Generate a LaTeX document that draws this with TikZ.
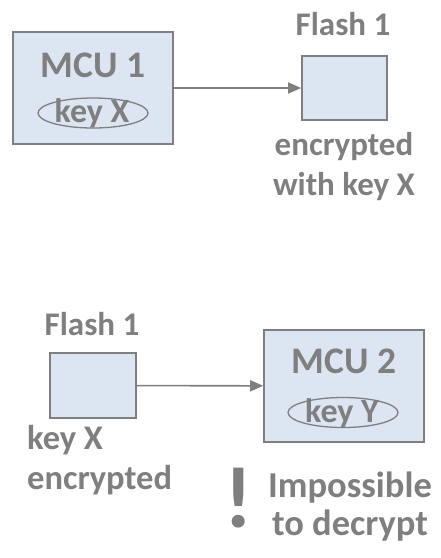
\documentclass[tikz,border=0pt]{standalone}
\usepackage{fontspec}
\setmainfont{Carlito}
\usetikzlibrary{shapes.geometric,arrows.meta}
\definecolor{txtgray}{RGB}{127,127,127}
\definecolor{boxblue}{RGB}{220,230,242}

\begin{document}
\begin{tikzpicture}[x=1pt,y=-1pt,
    box/.style={draw=txtgray, fill=boxblue, line width=1.6pt, inner sep=0pt},
    keyoval/.style={ellipse, draw=txtgray, line width=1.3pt, inner sep=0pt, minimum width=110pt, minimum height=30pt},
    lbl/.style={text=txtgray, font=\bfseries\fontsize{33}{40}\selectfont, inner sep=0pt},
    link/.style={draw=txtgray, line width=1.6pt, -{Triangle[length=13pt,width=11pt]}}]
    \useasboundingbox (0,0) rectangle (440,558);
    % MCU 1 writes to the flash
    \node[box, minimum width=160pt, minimum height=112pt] (mcuA) at (93,88) {};
    \node[lbl, anchor=base, font=\bfseries\fontsize{37.5}{37.5}\selectfont] (mcuAname) at (93,77) {MCU 1};
    \node[keyoval] (keyA) at (93,113) {};
    \node[lbl, anchor=base, font=\bfseries\fontsize{34}{34}\selectfont] (keyAname) at (92,122) {key X};
    \node[box, minimum width=85pt, minimum height=64pt] (flashA) at (344.5,88) {};
    \node[lbl, anchor=base] (flashAname) at (343,35) {Flash 1};
    \node[lbl, anchor=base, align=center] (flashAnote) at (344,195) {encrypted\\with key X};
    \draw[link] (mcuA) -- (flashA);
    % the same flash moved to MCU 2
    \node[box, minimum width=86pt, minimum height=65pt] (flashB) at (93,385.5) {};
    \node[lbl, anchor=base] (flashBname) at (92,335) {Flash 1};
    \node[lbl, anchor=base west, align=left, font=\bfseries\fontsize{34.5}{40}\selectfont] (flashBnote) at (27,489) {key X\\encrypted};
    \node[box, minimum width=160pt, minimum height=112pt] (mcuB) at (344,386) {};
    \node[lbl, anchor=base, font=\bfseries\fontsize{37.5}{37.5}\selectfont] (mcuBname) at (344,373) {MCU 2};
    \node[keyoval] (keyB) at (343,412.5) {};
    \node[lbl, anchor=base, font=\bfseries\fontsize{34}{34}\selectfont] (keyBname) at (342,422) {key Y};
    \draw[link] (flashB) -- (mcuB);
    \node[lbl, anchor=base, font=\bfseries\fontsize{87}{87}\selectfont] (warn) at (238.5,527) {!};
    \node[lbl, anchor=base, align=center, font=\bfseries\fontsize{36.5}{38}\selectfont] (warnnote) at (350,535) {Impossible\\to decrypt};
\end{tikzpicture}
\end{document}
